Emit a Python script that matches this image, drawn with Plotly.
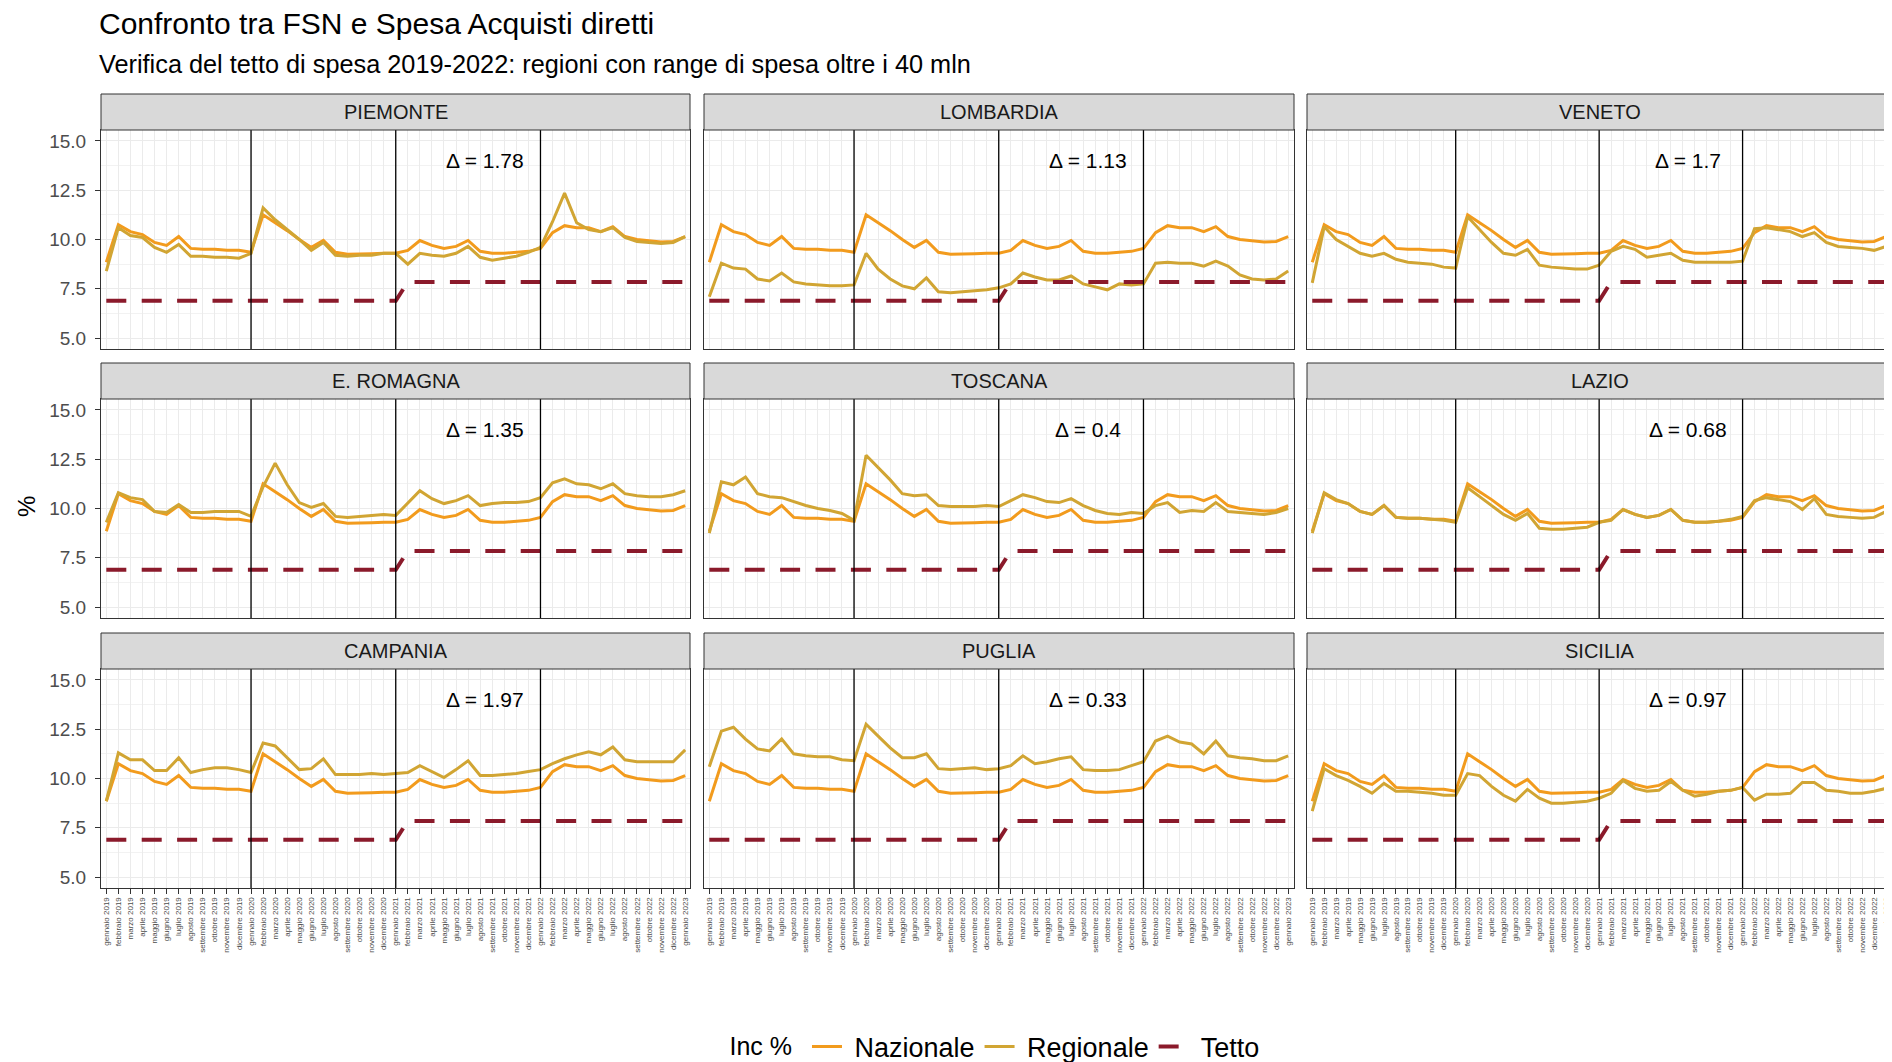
import plotly.graph_objects as go

# ---------------- DATA ----------------
months_it = ["gennaio", "febbraio", "marzo", "aprile", "maggio", "giugno",
             "luglio", "agosto", "settembre", "ottobre", "novembre", "dicembre"]
years = [2019, 2020, 2021, 2022]
x_labels = [f"{m} {y}" for y in years for m in months_it] + ["gennaio 2023"]

regions = ["PIEMONTE", "LOMBARDIA", "VENETO", "E. ROMAGNA", "TOSCANA", "LAZIO",
           "CAMPANIA", "PUGLIA", "SICILIA"]
delta = [1.78, 1.13, 1.7, 1.35, 0.4, 0.68, 1.97, 0.33, 0.97]

tetto = [6.89, 6.89, 6.89, 6.89, 6.89, 6.89, 6.89, 6.89, 6.89, 6.89, 6.89, 6.89,
         6.89, 6.89, 6.89, 6.89, 6.89, 6.89, 6.89, 6.89, 6.89, 6.89, 6.89, 6.89,
         6.89, 7.85, 7.85, 7.85, 7.85, 7.85, 7.85, 7.85, 7.85, 7.85, 7.85, 7.85,
         7.85, 7.85, 7.85, 7.85, 7.85, 7.85, 7.85, 7.85, 7.85, 7.85, 7.85, 7.85, 7.85]

nazionale = [8.85, 10.75, 10.40, 10.25, 9.85, 9.70, 10.15, 9.55, 9.50, 9.50, 9.45, 9.45,
             9.35, 11.25, 10.85, 10.45, 10.00, 9.60, 9.95, 9.35, 9.25, 9.25, 9.28, 9.30,
             9.30, 9.45, 9.95, 9.70, 9.55, 9.65, 9.95, 9.40, 9.30, 9.30, 9.35, 9.40,
             9.55, 10.35, 10.70, 10.60, 10.60, 10.40, 10.65, 10.15, 10.00, 9.92, 9.87, 9.90, 10.15]

reg_piemonte = [8.40, 10.60, 10.20, 10.10, 9.60, 9.35, 9.75, 9.15, 9.15, 9.10, 9.10, 9.05,
                9.30, 11.60, 11.00, 10.50, 10.00, 9.45, 9.85, 9.20, 9.15, 9.20, 9.20, 9.30,
                9.30, 8.75, 9.30, 9.20, 9.15, 9.30, 9.65, 9.10, 8.95, 9.05, 9.15, 9.35,
                9.60, 10.90, 12.35, 10.85, 10.50, 10.40, 10.60, 10.10, 9.90, 9.85, 9.80, 9.85, 10.15]
reg_lombardia = [7.10, 8.80, 8.55, 8.50, 8.00, 7.90, 8.30, 7.85, 7.75, 7.70, 7.65, 7.65,
                 7.70, 9.30, 8.50, 8.00, 7.65, 7.50, 8.05, 7.35, 7.30, 7.35, 7.40, 7.45,
                 7.55, 7.75, 8.30, 8.10, 7.95, 7.95, 8.15, 7.75, 7.60, 7.45, 7.75, 7.70,
                 7.75, 8.80, 8.85, 8.80, 8.80, 8.65, 8.90, 8.65, 8.20, 8.00, 7.95, 8.00, 8.40]
reg_veneto = [7.80, 10.65, 10.00, 9.65, 9.30, 9.15, 9.30, 9.00, 8.85, 8.80, 8.75, 8.60,
              8.55, 11.15, 10.50, 9.85, 9.30, 9.20, 9.50, 8.70, 8.60, 8.55, 8.50, 8.50,
              8.70, 9.40, 9.65, 9.50, 9.10, 9.20, 9.30, 8.95, 8.85, 8.85, 8.85, 8.85,
              8.90, 10.55, 10.60, 10.50, 10.40, 10.15, 10.35, 9.85, 9.65, 9.60, 9.55, 9.45, 9.65]
reg_eromagna = [9.30, 10.80, 10.55, 10.45, 9.85, 9.80, 10.20, 9.80, 9.80, 9.85, 9.85, 9.85,
                9.60, 11.10, 12.30, 11.20, 10.30, 10.05, 10.25, 9.60, 9.55, 9.60, 9.65, 9.70,
                9.65, 10.25, 10.90, 10.50, 10.25, 10.40, 10.65, 10.15, 10.25, 10.30, 10.30, 10.35,
                10.55, 11.30, 11.50, 11.25, 11.20, 11.00, 11.25, 10.75, 10.65, 10.60, 10.60, 10.70, 10.90]
reg_toscana = [8.75, 11.35, 11.20, 11.60, 10.75, 10.60, 10.55, 10.35, 10.15, 10.00, 9.90, 9.75,
               9.40, 12.70, 12.10, 11.45, 10.75, 10.65, 10.70, 10.15, 10.10, 10.10, 10.10, 10.15,
               10.10, 10.40, 10.70, 10.55, 10.35, 10.30, 10.50, 10.15, 9.90, 9.75, 9.70, 9.80,
               9.75, 10.15, 10.30, 9.80, 9.90, 9.85, 10.30, 9.85, 9.80, 9.75, 9.70, 9.80, 10.00]
reg_lazio = [8.75, 10.80, 10.45, 10.25, 9.85, 9.70, 10.15, 9.55, 9.50, 9.50, 9.45, 9.40,
             9.30, 11.05, 10.60, 10.15, 9.70, 9.40, 9.75, 9.00, 8.95, 8.95, 9.00, 9.05,
             9.30, 9.40, 9.95, 9.70, 9.55, 9.65, 9.95, 9.40, 9.30, 9.30, 9.35, 9.45,
             9.60, 10.40, 10.55, 10.45, 10.35, 9.95, 10.50, 9.70, 9.60, 9.55, 9.50, 9.55, 9.85]
reg_campania = [8.85, 11.30, 10.95, 10.95, 10.40, 10.40, 11.05, 10.30, 10.45, 10.55, 10.55, 10.45,
                10.30, 11.80, 11.65, 11.05, 10.45, 10.50, 11.00, 10.20, 10.20, 10.20, 10.25, 10.20,
                10.25, 10.30, 10.65, 10.35, 10.05, 10.45, 10.90, 10.15, 10.15, 10.20, 10.25, 10.35,
                10.45, 10.75, 11.00, 11.20, 11.35, 11.20, 11.60, 10.95, 10.85, 10.85, 10.85, 10.85, 11.45]
reg_puglia = [10.60, 12.40, 12.60, 12.00, 11.50, 11.40, 12.00, 11.25, 11.15, 11.10, 11.10, 10.95,
              10.90, 12.75, 12.15, 11.55, 11.05, 11.05, 11.25, 10.50, 10.45, 10.50, 10.55, 10.45,
              10.50, 10.65, 11.15, 10.75, 10.85, 11.00, 11.10, 10.45, 10.40, 10.40, 10.45, 10.65,
              10.85, 11.90, 12.15, 11.85, 11.75, 11.25, 11.90, 11.15, 11.05, 11.00, 10.90, 10.90, 11.15]
reg_sicilia = [8.35, 10.50, 10.15, 9.90, 9.60, 9.25, 9.75, 9.35, 9.35, 9.30, 9.25, 9.15,
               9.15, 10.25, 10.15, 9.60, 9.15, 8.85, 9.45, 9.00, 8.75, 8.75, 8.80, 8.85,
               9.00, 9.25, 9.90, 9.50, 9.35, 9.40, 9.85, 9.40, 9.10, 9.20, 9.35, 9.40,
               9.55, 8.90, 9.20, 9.20, 9.25, 9.80, 9.80, 9.40, 9.35, 9.25, 9.25, 9.35, 9.50]

regionale = [reg_piemonte, reg_lombardia, reg_veneto, reg_eromagna, reg_toscana,
             reg_lazio, reg_campania, reg_puglia, reg_sicilia]

y_ticks = [5.0, 7.5, 10.0, 12.5, 15.0]

# ---------------- STYLE / LAYOUT ----------------
WIN_W, WIN_H = 1892, 1062
OFF = 8                      # browser default body margin
W, H = WIN_W - OFF, WIN_H - OFF
FONT = "Liberation Sans, Arial, sans-serif"
C_NAZ = "#F29B1D"
C_REG = "#D1A533"
C_TET = "#8B1A2B"

# positions in window pixels
col_px = [(101, 690), (704, 1294), (1307, 1892)]
row_px = [(130, 349), (399, 618), (669, 888)]
STRIP_H = 36
PX_PER_MONTH = 12.06
X_LEFT = -0.44
Y_RANGE = [4.45, 15.55]


def fx(x):
    return (x - OFF) / W


def fy(y):
    return 1 - (y - OFF) / H


year_starts = [lab for lab in x_labels[1:] if lab.startswith("gennaio") and lab != x_labels[-1]]
delta_x = x_labels[31]

fig = go.Figure()
layout = dict(shapes=[], annotations=[])

for i, reg in enumerate(regions):
    r, c = divmod(i, 3)
    n = i + 1
    xa = "x" if n == 1 else f"x{n}"
    ya = "y" if n == 1 else f"y{n}"
    xl, xr = col_px[c]
    yt, yb = row_px[r]
    xdom = [fx(xl), min(1.0, fx(xr))]
    ydom = [fy(yb), fy(yt)]
    bottom = r == 2
    left = c == 0
    xmax = X_LEFT + (xr - xl) / PX_PER_MONTH
    if c == 2:
        xmax = 48.5

    layout[f"xaxis{'' if n == 1 else n}"] = dict(
        domain=xdom, anchor=ya, type="category",
        range=[X_LEFT, xmax],
        tickmode="array", tickvals=x_labels, ticktext=x_labels,
        showticklabels=bottom, ticks="outside" if bottom else "",
        ticklen=5, tickcolor="#333333", tickwidth=1,
        tickangle=-90, tickfont=dict(family=FONT, size=8, color="#4D4D4D"),
        showgrid=True, gridcolor="#EBEBEB", gridwidth=1,
        showline=True, linecolor="#333333", linewidth=1, mirror=True,
        zeroline=False, fixedrange=True,
    )
    layout[f"yaxis{'' if n == 1 else n}"] = dict(
        domain=ydom, anchor=xa, range=Y_RANGE,
        tickmode="array", tickvals=y_ticks, ticktext=[f"{v:.1f}" for v in y_ticks],
        showticklabels=left, ticks="outside" if left else "",
        ticklen=5, tickcolor="#333333", tickwidth=1, ticklabelstandoff=5,
        tickfont=dict(family=FONT, size=19, color="#4D4D4D"),
        showgrid=True, gridcolor="#EBEBEB", gridwidth=1.2,
        minor=dict(tickmode="linear", tick0=3.75, dtick=2.5, showgrid=True,
                   gridcolor="#F2F2F2", gridwidth=0.7),
        showline=True, linecolor="#333333", linewidth=1, mirror=True,
        zeroline=False, fixedrange=True,
    )

    fig.add_trace(go.Scatter(x=x_labels, y=nazionale, mode="lines", name=" Nazionale",
                             line=dict(color=C_NAZ, width=3), xaxis=xa, yaxis=ya,
                             showlegend=(i == 0), legendgroup="naz"))
    fig.add_trace(go.Scatter(x=x_labels, y=regionale[i], mode="lines", name=" Regionale",
                             line=dict(color=C_REG, width=3), xaxis=xa, yaxis=ya,
                             showlegend=(i == 0), legendgroup="reg"))
    fig.add_trace(go.Scatter(x=x_labels, y=tetto, mode="lines", name=" Tetto",
                             line=dict(color=C_TET, width=4, dash="20px,15.4px"),
                             xaxis=xa, yaxis=ya, showlegend=(i == 0), legendgroup="tet"))

    for lab in year_starts:
        layout["shapes"].append(dict(type="line", xref=xa, yref=f"{ya} domain",
                                     x0=lab, x1=lab, y0=0, y1=1,
                                     line=dict(color="black", width=1.3)))

    layout["shapes"].append(dict(type="rect", xref="paper", yref="paper",
                                 x0=fx(xl), x1=min(1.0, fx(xr)), y0=fy(yt), y1=fy(yt - STRIP_H),
                                 fillcolor="#D9D9D9", line=dict(color="#333333", width=1)))
    layout["annotations"].append(dict(text=reg, xref="paper", yref="paper",
                                      x=fx((xl + xr) / 2), y=fy(yt - STRIP_H / 2),
                                      xanchor="center", yanchor="middle", showarrow=False,
                                      font=dict(family=FONT, size=20, color="#1A1A1A")))
    layout["annotations"].append(dict(text=f"\u0394 = {delta[i]}", xref=xa, yref=ya,
                                      x=delta_x, y=14.0, xshift=5, showarrow=False,
                                      xanchor="center", yanchor="middle",
                                      font=dict(family=FONT, size=21, color="black")))

layout["annotations"].append(dict(text="Confronto tra FSN e Spesa Acquisti diretti",
                                  xref="paper", yref="paper", x=fx(97), y=fy(24),
                                  xanchor="left", yanchor="middle", showarrow=False,
                                  font=dict(family=FONT, size=30, color="black")))
layout["annotations"].append(dict(text="Verifica del tetto di spesa 2019-2022: regioni con range di spesa oltre i 40 mln",
                                  xref="paper", yref="paper", x=fx(97), y=fy(64),
                                  xanchor="left", yanchor="middle", showarrow=False,
                                  font=dict(family=FONT, size=25.3, color="black")))
layout["annotations"].append(dict(text="%", xref="paper", yref="paper", x=fx(27), y=fy(507),
                                  xanchor="center", yanchor="middle", showarrow=False,
                                  textangle=-90, font=dict(family=FONT, size=24, color="black")))

fig.update_layout(
    **layout,
    width=W, height=H,
    margin=dict(l=0, r=0, t=0, b=0, autoexpand=False),
    paper_bgcolor="white", plot_bgcolor="white",
    font=dict(family=FONT),
    legend=dict(orientation="h", x=fx(996), xanchor="center", y=fy(1047), yanchor="middle",
                title=dict(text="Inc % ", side="left", font=dict(family=FONT, size=25, color="black")),
                font=dict(family=FONT, size=27, color="black"), itemwidth=30,
                bgcolor="rgba(0,0,0,0)"),
    showlegend=True,
)

fig.write_html("out.html")
